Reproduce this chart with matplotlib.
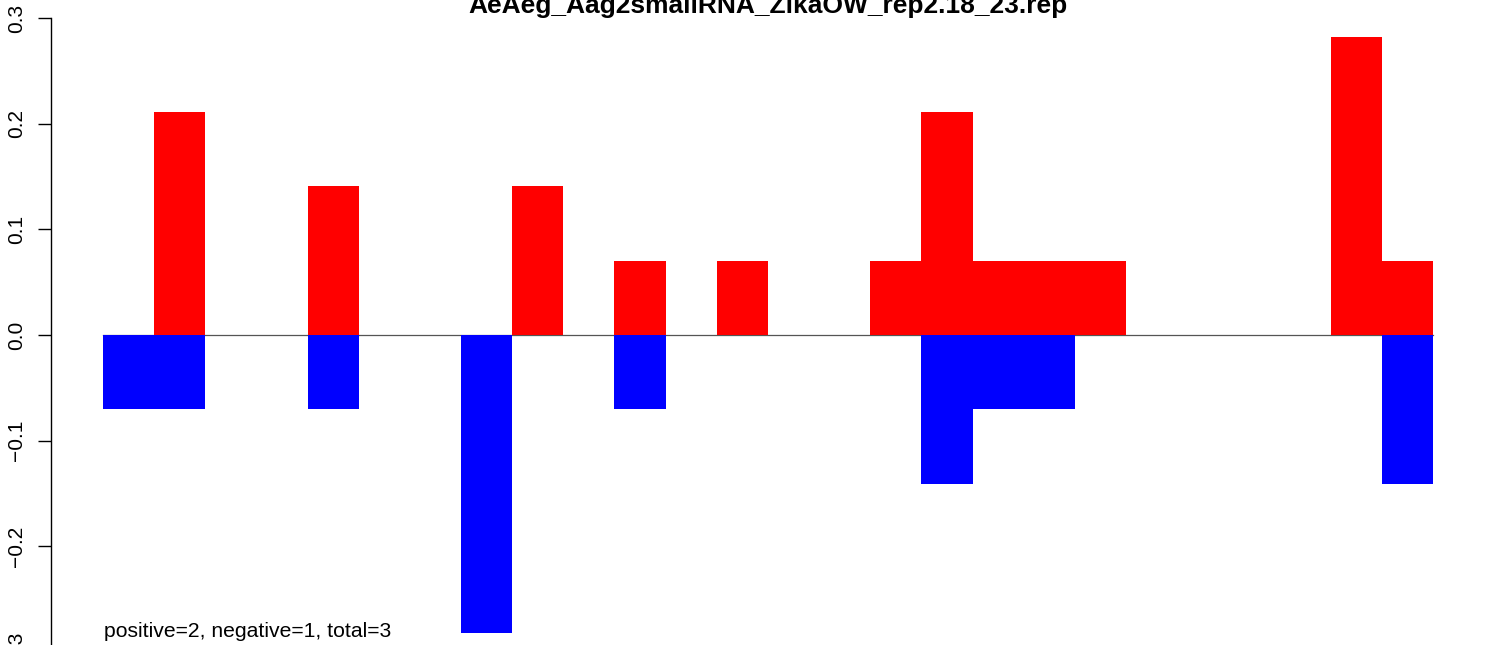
import matplotlib
matplotlib.use("Agg")
import matplotlib.pyplot as plt
import numpy as np

plt.rcParams['font.family'] = ['Liberation Sans', 'DejaVu Sans']

title = "AeAeg_Aag2smallRNA_ZikaOW_rep2.18_23.rep"
note = "positive=2, negative=1, total=3"

# one value per position (26 positions)
positive = [0, 0.2115, 0, 0, 0.141, 0, 0, 0, 0.141, 0, 0.0705, 0, 0.0705, 0,
            0, 0.0705, 0.2115, 0.0705, 0.0705, 0.0705, 0, 0, 0, 0, 0.282, 0.0705]
negative = [-0.0705, -0.0705, 0, 0, -0.0705, 0, 0, -0.282, 0, 0, -0.0705, 0, 0, 0,
            0, 0, -0.141, -0.0705, -0.0705, 0, 0, 0, 0, 0, 0, -0.141]
yticks = [-0.3, -0.2, -0.1, 0.0, 0.1, 0.2, 0.3]
ytick_labels = ["\u22120.3", "\u22120.2", "\u22120.1", "0.0", "0.1", "0.2", "0.3"]

W, H = 1506, 645
fig = plt.figure(figsize=(W / 100, H / 100), dpi=100)

px = 51.15  # pixels per bar
left_px, right_px = 51, 1460
top_px, bot_px = 18, 652
ax = fig.add_axes([left_px / W, (H - bot_px) / H,
                   (right_px - left_px) / W, (bot_px - top_px) / H])

x = np.arange(len(positive))
ax.plot([0, len(positive)], [0, 0], color='#555555', lw=0.9, zorder=1)
ax.bar(x, positive, width=1, align='edge', color='#ff0000', linewidth=0, zorder=2)
ax.bar(x, negative, width=1, align='edge', color='#0000ff', linewidth=0, zorder=2)

ax.set_xlim(-(103 - left_px) / px, (right_px - 103) / px)
ax.set_ylim(-0.3, 0.3)
for s in ['top', 'right', 'bottom']:
    ax.spines[s].set_visible(False)
ax.spines['left'].set_linewidth(1.0)
ax.set_xticks([])
ax.set_yticks(yticks)
ax.set_yticklabels(ytick_labels, rotation=90, va='center', fontsize=15)
ax.tick_params(axis='y', length=9.5, width=1.0, pad=8.5)

fig.text(768 / W, (H - 13) / H, title, ha='center', va='baseline',
         fontsize=19, fontweight='bold')
fig.text(104 / W, (H - 637) / H, note, ha='left', va='baseline', fontsize=15.2)

fig.savefig("out.png", dpi=100)
